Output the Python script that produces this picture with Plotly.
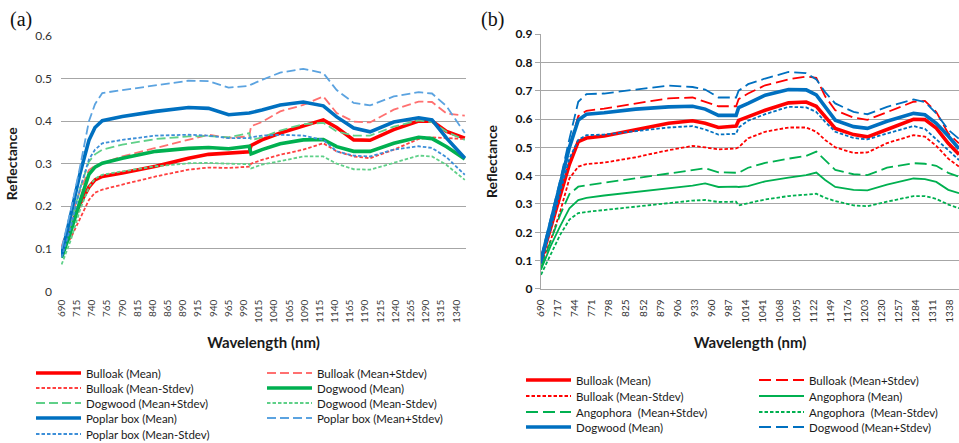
import plotly.graph_objects as go

# ---------------- Panel (a) data ----------------
WL_A = [690, 705, 720, 735, 745, 757, 790, 845, 899, 932, 965, 999, 1002, 1020, 1050,
        1088, 1121, 1143, 1171, 1198, 1237, 1278, 1300, 1324, 1354]
A_BULLOAK_MEAN = [0.095, 0.150, 0.205, 0.245, 0.262, 0.270, 0.278, 0.294, 0.313, 0.322, 0.324, 0.328, 0.343, 0.356, 0.372, 0.389, 0.403, 0.385, 0.356, 0.355, 0.380, 0.400, 0.400, 0.376, 0.360]
A_BULLOAK_PLUS = [0.105, 0.170, 0.235, 0.285, 0.295, 0.301, 0.317, 0.337, 0.356, 0.368, 0.361, 0.364, 0.388, 0.398, 0.423, 0.438, 0.458, 0.419, 0.399, 0.397, 0.427, 0.446, 0.445, 0.418, 0.413]
A_BULLOAK_MINUS = [0.100, 0.125, 0.170, 0.215, 0.232, 0.239, 0.251, 0.270, 0.286, 0.291, 0.290, 0.293, 0.300, 0.309, 0.321, 0.333, 0.348, 0.329, 0.317, 0.313, 0.333, 0.358, 0.362, 0.360, 0.358]
A_DOGWOOD_MEAN = [0.079, 0.140, 0.210, 0.275, 0.292, 0.301, 0.313, 0.329, 0.336, 0.338, 0.335, 0.341, 0.323, 0.333, 0.347, 0.356, 0.357, 0.340, 0.329, 0.329, 0.348, 0.362, 0.359, 0.340, 0.311]
A_DOGWOOD_PLUS = [0.090, 0.160, 0.240, 0.305, 0.322, 0.333, 0.345, 0.358, 0.364, 0.365, 0.362, 0.372, 0.355, 0.362, 0.378, 0.393, 0.396, 0.376, 0.366, 0.366, 0.387, 0.402, 0.398, 0.375, 0.356]
A_DOGWOOD_MINUS = [0.063, 0.120, 0.190, 0.245, 0.265, 0.274, 0.282, 0.294, 0.301, 0.302, 0.300, 0.299, 0.289, 0.298, 0.306, 0.317, 0.317, 0.300, 0.287, 0.286, 0.302, 0.319, 0.317, 0.297, 0.262]
A_POPLAR_MEAN = [0.085, 0.180, 0.275, 0.355, 0.385, 0.401, 0.411, 0.423, 0.432, 0.430, 0.415, 0.419, 0.420, 0.426, 0.438, 0.445, 0.436, 0.410, 0.384, 0.375, 0.398, 0.408, 0.403, 0.360, 0.313]
A_POPLAR_PLUS = [0.100, 0.190, 0.290, 0.400, 0.440, 0.466, 0.473, 0.484, 0.495, 0.494, 0.479, 0.483, 0.486, 0.497, 0.514, 0.523, 0.513, 0.473, 0.443, 0.437, 0.458, 0.468, 0.465, 0.435, 0.372]
A_POPLAR_MINUS = [0.080, 0.150, 0.240, 0.310, 0.333, 0.348, 0.356, 0.366, 0.368, 0.366, 0.360, 0.360, 0.362, 0.366, 0.368, 0.366, 0.356, 0.329, 0.319, 0.317, 0.333, 0.341, 0.337, 0.315, 0.274]
A_TICKS = list(range(690, 1341, 25))
A_YTICKS = [0, 0.1, 0.2, 0.3, 0.4, 0.5, 0.6]

# ---------------- Panel (b) data ----------------
WL_B = [690, 705, 720, 735, 749, 762, 790, 840, 892, 930, 950, 971, 999, 1003, 1018, 1045,
        1082, 1110, 1126, 1140, 1156, 1185, 1207, 1238, 1280, 1298, 1316, 1335, 1352]
B_BULLOAK_MEAN = [0.100, 0.210, 0.320, 0.440, 0.520, 0.533, 0.540, 0.563, 0.585, 0.594, 0.585, 0.570, 0.575, 0.595, 0.608, 0.631, 0.657, 0.660, 0.645, 0.610, 0.567, 0.545, 0.537, 0.563, 0.599, 0.598, 0.568, 0.514, 0.475]
B_BULLOAK_PLUS = [0.110, 0.230, 0.360, 0.500, 0.610, 0.629, 0.637, 0.655, 0.673, 0.676, 0.662, 0.645, 0.645, 0.670, 0.690, 0.719, 0.740, 0.750, 0.745, 0.680, 0.631, 0.605, 0.597, 0.625, 0.661, 0.664, 0.625, 0.549, 0.514]
B_BULLOAK_MINUS = [0.090, 0.170, 0.270, 0.390, 0.432, 0.441, 0.446, 0.465, 0.490, 0.505, 0.500, 0.493, 0.496, 0.500, 0.532, 0.555, 0.570, 0.570, 0.555, 0.526, 0.500, 0.480, 0.482, 0.515, 0.543, 0.538, 0.505, 0.460, 0.432]
B_ANGOPHORA_MEAN = [0.068, 0.150, 0.220, 0.285, 0.314, 0.322, 0.330, 0.343, 0.355, 0.365, 0.373, 0.360, 0.361, 0.360, 0.363, 0.380, 0.393, 0.402, 0.411, 0.385, 0.360, 0.350, 0.348, 0.368, 0.390, 0.388, 0.378, 0.350, 0.338]
B_ANGOPHORA_PLUS = [0.075, 0.170, 0.260, 0.335, 0.361, 0.366, 0.375, 0.392, 0.410, 0.420, 0.426, 0.412, 0.408, 0.410, 0.428, 0.445, 0.460, 0.470, 0.485, 0.455, 0.420, 0.405, 0.402, 0.428, 0.444, 0.442, 0.435, 0.410, 0.396]
B_ANGOPHORA_MINUS = [0.050, 0.120, 0.190, 0.245, 0.268, 0.272, 0.279, 0.291, 0.303, 0.312, 0.314, 0.307, 0.308, 0.295, 0.303, 0.316, 0.328, 0.333, 0.336, 0.322, 0.310, 0.295, 0.292, 0.308, 0.328, 0.328, 0.318, 0.298, 0.285]
B_DOGWOOD_MEAN = [0.100, 0.230, 0.370, 0.500, 0.596, 0.617, 0.622, 0.635, 0.643, 0.645, 0.635, 0.613, 0.613, 0.640, 0.655, 0.684, 0.704, 0.703, 0.685, 0.645, 0.596, 0.573, 0.567, 0.592, 0.620, 0.615, 0.585, 0.540, 0.495]
B_DOGWOOD_PLUS = [0.110, 0.240, 0.380, 0.530, 0.661, 0.688, 0.690, 0.704, 0.718, 0.713, 0.704, 0.676, 0.676, 0.700, 0.723, 0.743, 0.766, 0.762, 0.740, 0.695, 0.655, 0.625, 0.617, 0.643, 0.669, 0.660, 0.620, 0.562, 0.530]
B_DOGWOOD_MINUS = [0.090, 0.210, 0.340, 0.460, 0.526, 0.543, 0.545, 0.558, 0.570, 0.575, 0.563, 0.545, 0.548, 0.570, 0.594, 0.617, 0.643, 0.641, 0.625, 0.590, 0.555, 0.533, 0.528, 0.549, 0.575, 0.565, 0.530, 0.490, 0.455]
B_TICKS = list(range(690, 1339, 27))
B_YTICKS = [0, 0.1, 0.2, 0.3, 0.4, 0.5, 0.6, 0.7, 0.8, 0.9]

W, H = 959, 443
FONT = "Lato"

fig = go.Figure()

def add(x, y, name, color, width, dash, xa, ya, legend, showlegend=True):
    fig.add_trace(go.Scatter(
        x=x, y=y, name=name, mode="lines",
        line=dict(color=color, width=width, dash=dash),
        xaxis=xa, yaxis=ya, legend=legend, showlegend=showlegend,
        hoverinfo="skip"))

LD_A = "9px,4px"
SD = "3.5px,2px"
# panel (a)
add(WL_A, A_BULLOAK_MEAN, "Bulloak (Mean)", "#FF0000", 3.6, "solid", "x", "y", "legend")
add(WL_A, A_BULLOAK_PLUS, "Bulloak (Mean+Stdev)", "#FF7070", 1.8, LD_A, "x", "y", "legend")
add(WL_A, A_BULLOAK_MINUS, "Bulloak (Mean-Stdev)", "#FF4040", 1.8, SD, "x", "y", "legend2")
add(WL_A, A_DOGWOOD_MEAN, "Dogwood (Mean)", "#00B050", 3.6, "solid", "x", "y", "legend2")
add(WL_A, A_DOGWOOD_PLUS, "Dogwood (Mean+Stdev)", "#5FD088", 1.8, LD_A, "x", "y", "legend3")
add(WL_A, A_DOGWOOD_MINUS, "Dogwood (Mean-Stdev)", "#5FD088", 1.8, SD, "x", "y", "legend3")
add(WL_A, A_POPLAR_MEAN, "Poplar box (Mean)", "#0070C0", 3.6, "solid", "x", "y", "legend4")
add(WL_A, A_POPLAR_PLUS, "Poplar box (Mean+Stdev)", "#5BA3E0", 1.8, LD_A, "x", "y", "legend4")
add(WL_A, A_POPLAR_MINUS, "Poplar box (Mean-Stdev)", "#3D8FD8", 1.8, SD, "x", "y", "legend5")

LD_B = "12px,5px"
# panel (b)
add(WL_B, B_BULLOAK_MEAN, "Bulloak (Mean)", "#FF0000", 3.6, "solid", "x2", "y2", "legend6")
add(WL_B, B_BULLOAK_PLUS, "Bulloak (Mean+Stdev)", "#FF0000", 1.8, LD_B, "x2", "y2", "legend6")
add(WL_B, B_BULLOAK_MINUS, "Bulloak (Mean-Stdev)", "#FF0000", 1.8, SD, "x2", "y2", "legend7")
add(WL_B, B_ANGOPHORA_MEAN, "Angophora (Mean)", "#00B050", 1.8, "solid", "x2", "y2", "legend7")
add(WL_B, B_ANGOPHORA_PLUS, "Angophora  (Mean+Stdev)", "#00B050", 1.8, LD_B, "x2", "y2", "legend8")
add(WL_B, B_ANGOPHORA_MINUS, "Angophora  (Mean-Stdev)", "#00B050", 1.8, SD, "x2", "y2", "legend8")
add(WL_B, B_DOGWOOD_MEAN, "Dogwood (Mean)", "#0070C0", 3.6, "solid", "x2", "y2", "legend9")
add(WL_B, B_DOGWOOD_PLUS, "Dogwood (Mean+Stdev)", "#0070C0", 1.8, LD_B, "x2", "y2", "legend9")
add(WL_B, B_DOGWOOD_MINUS, "Dogwood (Mean-Stdev)", "#0070C0", 1.8, SD, "x2", "y2", "legend9", showlegend=False)

GRID = "#A6A6A6"

def px_x(p):
    return p / W

def px_y(p):
    return 1 - p / H

layout = dict(
    width=W, height=H,
    margin=dict(l=0, r=0, t=0, b=0, autoexpand=False),
    paper_bgcolor="white", plot_bgcolor="white",
    font=dict(family=FONT, color="#222222"),
    showlegend=True,
    xaxis=dict(domain=[px_x(61), px_x(466)], range=[689, 1356], tickmode="array",
               tickvals=A_TICKS, ticktext=[str(t) for t in A_TICKS], tickangle=-90,
               tickfont=dict(size=10, color="#404040", family=FONT), showgrid=False,
               zeroline=False, showline=False, ticks="", anchor="y", ticklabelstandoff=5,
               title=dict(text="<b>Wavelength (nm)</b>", font=dict(size=15, color="#1a1a1a"), standoff=15)),
    yaxis=dict(domain=[px_y(291.7), px_y(35.7)], range=[-0.0008, 0.6008], tickmode="array",
               tickvals=A_YTICKS, ticktext=["0", "0.1", "0.2", "0.3", "0.4", "0.5", "0.6"],
               tickfont=dict(size=12, color="#333333", family=FONT), showgrid=True,
               gridcolor=GRID, gridwidth=1.4, zeroline=False, showline=False, ticks="",
               ticklabelstandoff=8, anchor="x",
               title=dict(text="<b>Reflectance</b>", font=dict(size=14, color="#1a1a1a"), standoff=14)),
    xaxis2=dict(domain=[px_x(541), 1.0], range=[690, 1352], tickmode="array",
                tickvals=B_TICKS, ticktext=[str(t) for t in B_TICKS], tickangle=-90,
                tickfont=dict(size=10, color="#333333", family=FONT), showgrid=False,
                zeroline=False, showline=True, linecolor=GRID, linewidth=1.4, ticks="",
                anchor="y2", ticklabelstandoff=5,
                title=dict(text="<b>Wavelength (nm)</b>", font=dict(size=15, color="#1a1a1a"), standoff=15)),
    yaxis2=dict(domain=[px_y(289.3), px_y(33.7)], range=[-0.0012, 0.9012], tickmode="array",
                tickvals=B_YTICKS, ticktext=["0", "0.1", "0.2", "0.3", "0.4", "0.5", "0.6", "0.7", "0.8", "0.9"],
                tickfont=dict(size=12, color="#111111", family=FONT, weight="bold"), showgrid=True,
                gridcolor=GRID, gridwidth=1.4, zeroline=False, showline=True, linecolor=GRID,
                linewidth=1.4, ticks="outside", ticklen=5, tickcolor=GRID, tickwidth=1.4,
                ticklabelstandoff=0, anchor="x2",
                title=dict(text="<b>Reflectance</b>", font=dict(size=14, color="#1a1a1a"), standoff=14)),
    annotations=[
        dict(text="(a)", x=px_x(8), y=px_y(19), xref="paper", yref="paper", xanchor="left",
             yanchor="middle", showarrow=False, font=dict(family="Liberation Serif", size=20, color="#111111")),
        dict(text="(b)", x=px_x(479), y=px_y(19), xref="paper", yref="paper", xanchor="left",
             yanchor="middle", showarrow=False, font=dict(family="Liberation Serif", size=20, color="#111111")),
    ],
)

# one horizontal legend per legend row (two entries per row)
A_ROWS = [373, 388, 403, 418, 434]
B_ROWS = [380, 396, 412, 427]
legend_common = dict(orientation="h", xanchor="left", yanchor="middle", bgcolor="rgba(0,0,0,0)",
                     itemwidth=45, entrywidthmode="pixels",
                     font=dict(family=FONT, size=11.5, color="#1a1a1a"), traceorder="normal",
                     itemclick=False, itemdoubleclick=False)
names = ["legend"] + [f"legend{i}" for i in range(2, 10)]
for i, ry in enumerate(A_ROWS):
    layout[names[i]] = dict(legend_common, entrywidth=171, x=px_x(31), y=px_y(ry))
for j, ry in enumerate(B_ROWS):
    layout[names[5 + j]] = dict(legend_common, entrywidth=173, x=px_x(521), y=px_y(ry))

fig.update_layout(**layout)
fig.write_html("out.html", config={"displayModeBar": False},
               post_script="document.body.style.margin='0px';")
